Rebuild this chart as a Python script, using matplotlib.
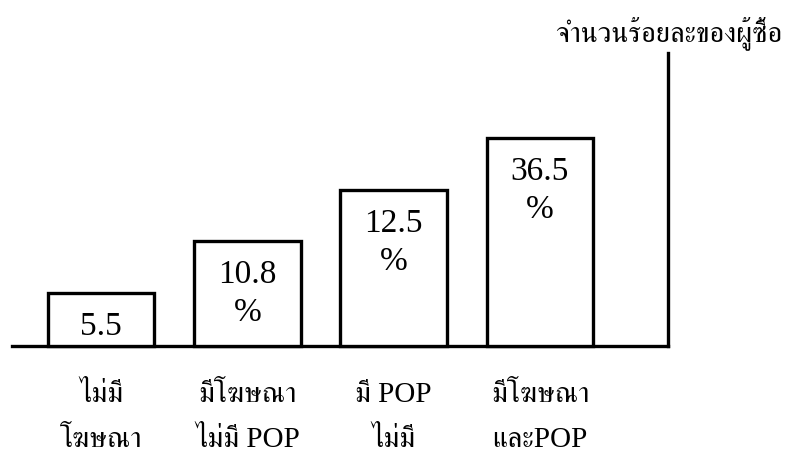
import numpy as np
import matplotlib
matplotlib.use('Agg')
import matplotlib.pyplot as plt
from matplotlib import font_manager
from matplotlib.ft2font import FT2Font

# bar heights (pixel heights above the baseline)
categories = ['ไม่มี\nโฆษณา', 'มีโฆษณา\nไม่มี POP', 'มี POP\nไม่มี', 'มีโฆษณา\nและPOP']
bar_heights = [53, 105, 156, 208]
value_labels = ['5.5', '10.8\n%', '12.5\n%', '36.5\n%']
axis_title = 'จำนวนร้อยละของผู้ซื้อ'


def find_thai_family():
    # look for any installed font that has Thai glyphs, serif ones first
    found = []
    for f in font_manager.fontManager.ttflist:
        try:
            if 0x0E08 in FT2Font(f.fname).get_charmap():
                found.append(f.name)
        except Exception:
            pass
    found = sorted(set(found), key=lambda n: (0 if 'Serif' in n else 1, n))
    return found[0] if found else None


thai = find_thai_family()
families = ['Liberation Serif']
if thai:
    families.append(thai)
families.append('DejaVu Sans')
plt.rcParams['font.family'] = families

W, H = 786, 453
fig = plt.figure(figsize=(W / 100, H / 100), dpi=100)
# axes: baseline at y=346px, from x=12 to x=668, top of right line at y=53
ax = fig.add_axes([12 / W, (H - 346) / H, 656 / W, 293 / H])

x = np.arange(len(categories))
ax.bar(x, bar_heights, width=0.73, color='white', edgecolor='black',
       linewidth=2.4, clip_on=False, zorder=3)
ax.set_xlim(-0.608, 3.875)
ax.set_ylim(0, 293)

for xi, h, lab in zip(x, bar_heights, value_labels):
    ax.annotate(lab, (xi, h), xytext=(0, -13), textcoords='offset points',
                ha='center', va='top', fontsize=24, linespacing=1.35,
                zorder=4)

ax.set_xticks(x, categories)
ax.tick_params(axis='x', length=0, pad=26, labelsize=21)
for t in ax.get_xticklabels():
    t.set_linespacing(1.95)
ax.set_yticks([])

for s in ['left', 'top']:
    ax.spines[s].set_visible(False)
for s in ['bottom', 'right']:
    ax.spines[s].set_linewidth(2.4)
ax.patch.set_visible(False)

fig.text(782 / W, 1 - 33 / H, axis_title, ha='right', va='center', fontsize=20.5)

fig.savefig('out.png', dpi=100)
